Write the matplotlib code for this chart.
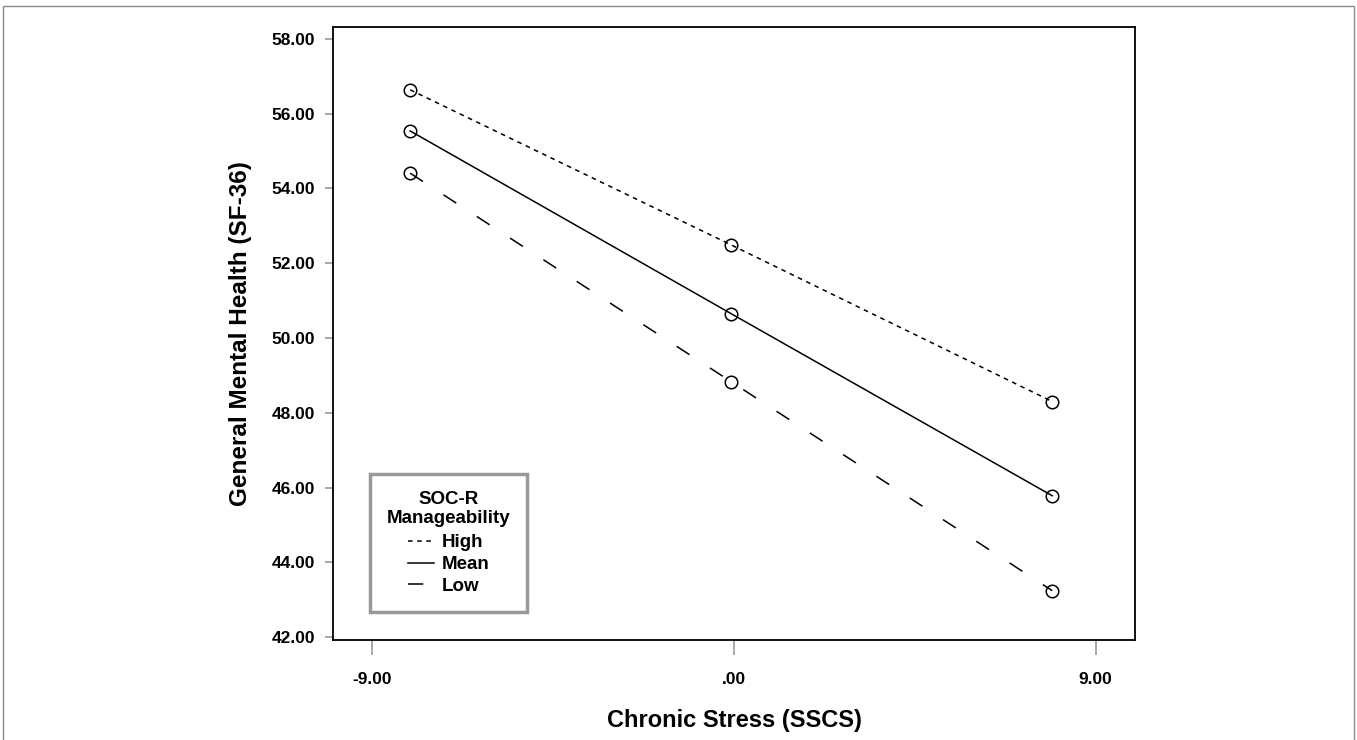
import matplotlib
matplotlib.use("Agg")
import matplotlib.pyplot as plt
from matplotlib.patches import Rectangle

plt.rcParams['font.family'] = ['Liberation Sans', 'DejaVu Sans']
plt.rcParams['font.weight'] = 'bold'

# simple slopes: stress at -1 SD, mean, +1 SD
stress = [-8.06, -0.07, 7.92]
high = [56.64, 52.49, 48.30]
mean = [55.54, 50.65, 45.78]
low = [54.41, 48.83, 43.24]
group_labels = ['High', 'Mean', 'Low']

yticks = [42, 44, 46, 48, 50, 52, 54, 56, 58]
xticks = [-9, 0, 9]
xtick_labels = ['-9.00', '.00', '9.00']

fig = plt.figure(figsize=(13.57, 7.4), dpi=100)
ax = fig.add_axes([0.2454, 0.1351, 0.591, 0.8284])

# outer frame around the figure
fig.patches.append(Rectangle((0.0022, -0.05), 0.9956, 1.0419, transform=fig.transFigure,
                             fill=False, edgecolor='#8a8a8a', lw=1.0))

styles = [(0, (3, 3)), '-', (0, (10, 16))]
for vals, lab, ls in zip([high, mean, low], group_labels, styles):
    ax.plot(stress, vals, color='black', lw=1.1, linestyle=ls, label=lab)
    ax.plot(stress, vals, linestyle='none', marker='o', markersize=9,
            markerfacecolor='none', markeredgecolor='black', markeredgewidth=1.1)

ax.set_xlim(-9.98, 9.98)
ax.set_ylim(41.92, 58.32)
ax.set_xticks(xticks)
ax.set_xticklabels(xtick_labels)
ax.set_yticks(yticks)
ax.set_yticklabels(['%.2f' % v for v in yticks])
ax.tick_params(axis='y', direction='out', length=6, width=1.2, color='#999999',
               labelsize=12.5, pad=7)
ax.tick_params(axis='x', direction='out', length=11, width=1.2, color='#999999',
               labelsize=12.5, pad=12)
for lbl in ax.get_xticklabels() + ax.get_yticklabels():
    lbl.set_fontweight('bold')
for sp in ax.spines.values():
    sp.set_linewidth(1.3)

ax.set_xlabel('Chronic Stress (SSCS)', fontsize=17, fontweight='bold', labelpad=16)
ax.set_ylabel('General Mental Health (SF-36)', fontsize=17.5, fontweight='bold', labelpad=14)

leg = ax.legend(title='SOC-R\nManageability', loc='lower left',
                bbox_to_anchor=(0.046, 0.046), borderaxespad=0, frameon=True, fancybox=False,
                handlelength=1.4, handletextpad=0.4, borderpad=0.9,
                labelspacing=0.25, prop={'size': 13.5, 'weight': 'bold'},
                title_fontproperties={'size': 13.5, 'weight': 'bold'})
leg.get_title().set_multialignment('center')
leg._legend_box.sep = 5
leg.get_frame().set_edgecolor('#808080')
leg.get_frame().set_linewidth(2.5)

fig.savefig('out.png', dpi=100)
